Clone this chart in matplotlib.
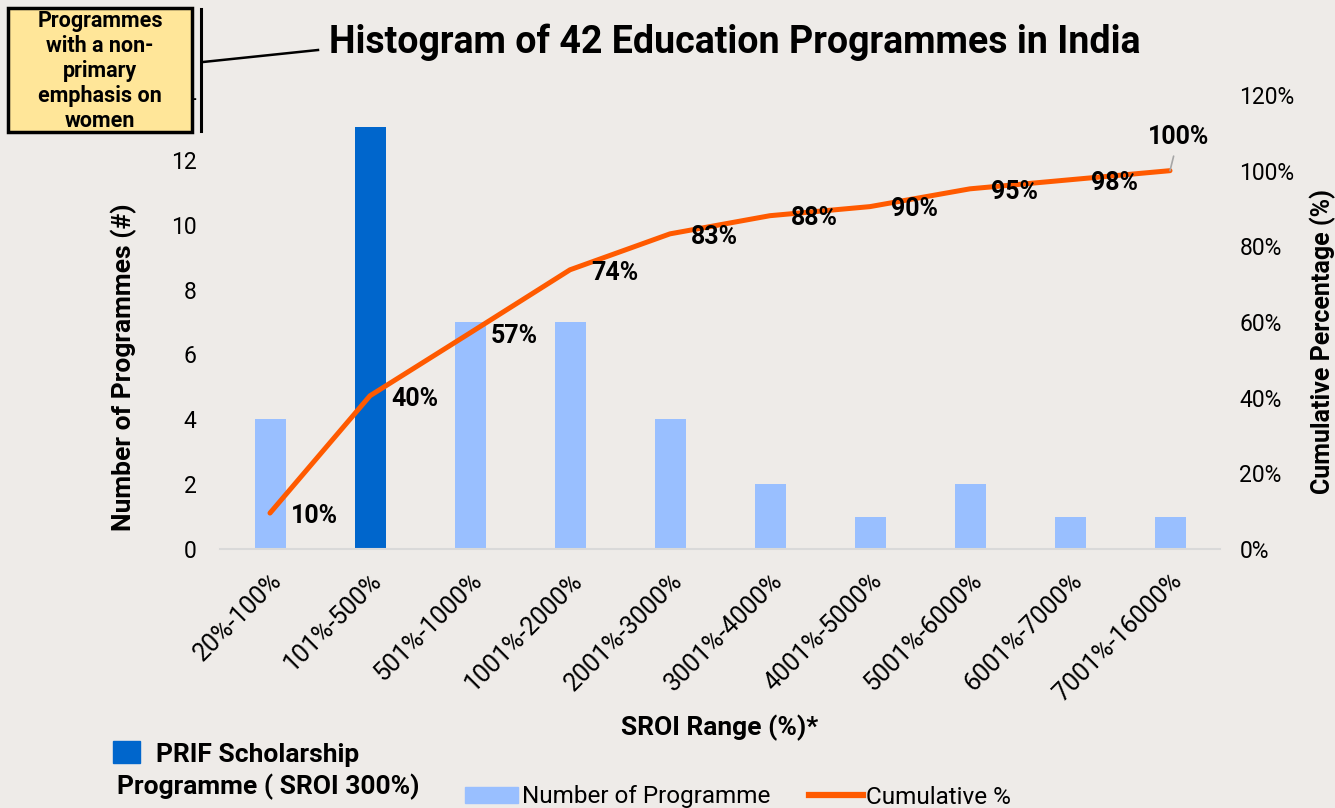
import matplotlib
matplotlib.use("Agg")
import matplotlib.pyplot as plt
from matplotlib.patches import Rectangle, Patch
from matplotlib.lines import Line2D
import numpy as np

plt.rcParams["font.family"] = ["Roboto", "DejaVu Sans"]

# data
categories = ["20%-100%", "101%-500%", "501%-1000%", "1001%-2000%", "2001%-3000%",
              "3001%-4000%", "4001%-5000%", "5001%-6000%", "6001%-7000%", "7001%-16000%"]
counts = [4, 13, 7, 7, 4, 2, 1, 2, 1, 1]
cumulative = [9.5, 40.5, 57.1, 73.8, 83.3, 88.1, 90.5, 95.2, 97.6, 100.0]
cum_labels = ["10%", "40%", "57%", "74%", "83%", "88%", "90%", "95%", "98%", "100%"]
highlight = "101%-500%"

BG = "#EEEBE8"
LIGHT = "#99BFFF"
DARK = "#0066CC"
ORANGE = "#FF5A00"

W, H = 1335, 808


def fx(px):
    return px / W


def fy(py):
    return 1 - py / H


fig = plt.figure(figsize=(W / 100, H / 100), dpi=100, facecolor=BG)
ax = fig.add_axes([fx(220), fy(549), 1000 / W, 454 / H])
ax.set_facecolor(BG)

x = np.arange(len(categories))
colors = [DARK if c == highlight else LIGHT for c in categories]
ax.bar(x, counts, width=0.31, color=colors, zorder=2)
ax.set_xlim(-0.5, len(categories) - 0.5)
ax.set_ylim(0, 14)
ax.set_yticks(range(0, 15, 2))
ax.tick_params(axis="y", length=0, pad=17, labelsize=16.5)
ax.tick_params(axis="x", length=0, pad=14)
ax.set_xticks(x)
ax.set_xticklabels(categories, rotation=45, ha="right", va="top",
                   rotation_mode="anchor", fontsize=18)
for s in ["left", "right", "top"]:
    ax.spines[s].set_visible(False)
ax.spines["bottom"].set_color("#D9D9D9")
ax.spines["bottom"].set_linewidth(1.5)
ax.set_ylabel("Number of Programmes (#)", fontsize=19, fontweight="bold")
ax.yaxis.set_label_coords(-0.083, 0.4)
ax.set_xlabel("SROI Range (%)*", fontsize=19, fontweight="bold")
ax.xaxis.set_label_coords(0.5, -0.366)

ax2 = ax.twinx()
ax2.plot(x, cumulative, color=ORANGE, lw=3.6, solid_capstyle="round", zorder=3)
ax2.set_ylim(0, 120)
ax2.set_yticks(range(0, 121, 20))
ax2.set_yticklabels([f"{v}%" for v in range(0, 121, 20)])
ax2.tick_params(axis="y", length=0, pad=14, labelsize=16.5)
for s in ["left", "right", "top", "bottom"]:
    ax2.spines[s].set_visible(False)
ax2.set_ylabel("Cumulative Percentage (%)", fontsize=18, fontweight="bold")
ax2.yaxis.set_label_coords(1.09, 0.456)

for xi, yi, lab in zip(x[:-1], cumulative[:-1], cum_labels[:-1]):
    ax2.annotate(lab, (xi, yi), xytext=(32, -2), textcoords="offset points",
                 ha="center", va="center", fontsize=18, fontweight="bold", zorder=4)
ax2.annotate(cum_labels[-1], (x[-1], cumulative[-1]), xytext=(6, 24),
             textcoords="offset points", ha="center", va="center",
             fontsize=18, fontweight="bold",
             arrowprops=dict(arrowstyle="-", color="#A6A6A6", lw=1.2,
                             shrinkA=3, shrinkB=0))

fig.text(fx(735), fy(42), "Histogram of 42 Education Programmes in India",
         ha="center", va="center", fontsize=27, fontweight="bold")

# callout box
fig.add_artist(Rectangle((fx(8), fy(132)), 184 / W, 124 / H, transform=fig.transFigure,
                         facecolor="#FFE699", edgecolor="black", lw=2.5, zorder=5))
fig.text(fx(100), fy(71), "Programmes\nwith a non-\nprimary\nemphasis on\nwomen",
         ha="center", va="center", fontsize=15.5, fontweight="bold",
         linespacing=1.18, zorder=6)
fig.add_artist(Line2D([fx(201), fx(201)], [fy(9), fy(131)], color="black", lw=2.2))
fig.add_artist(Line2D([fx(203), fx(318)], [fy(62), fy(50)], color="black", lw=1.8))

# legend
fig.add_artist(Rectangle((fx(113), fy(763)), 27 / W, 22 / H,
                         color=DARK, transform=fig.transFigure))
fig.text(fx(156), fy(755), "PRIF Scholarship", ha="left", va="center",
         fontsize=19, fontweight="bold")
fig.text(fx(117), fy(787), "Programme ( SROI 300%)", ha="left", va="center",
         fontsize=19, fontweight="bold")
handles = [Patch(color=LIGHT, label="Number of Programme"),
           Line2D([], [], color=ORANGE, lw=4.5, label="Cumulative %")]
fig.legend(handles=handles, loc="center left", bbox_to_anchor=(fx(465), fy(797)),
           ncol=2, frameon=False, fontsize=17.5, handlelength=2.2, handleheight=0.6,
           handletextpad=0.15, columnspacing=1.6, borderaxespad=0, borderpad=0)

fig.savefig("out.png", dpi=100, facecolor=BG)
